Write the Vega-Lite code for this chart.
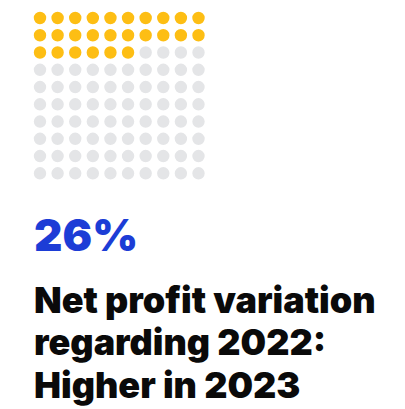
{
  "$schema": "https://vega.github.io/schema/vega-lite/v6.json",
  "autosize": "none",
  "width": 158.5,
  "height": 155.3,
  "padding": {"left": 40, "top": 18, "right": 206.5, "bottom": 235.7},
  "background": "white",
  "config": {"view": {"stroke": null}},
  "title": {
    "text": "26%",
    "orient": "bottom",
    "anchor": "start",
    "frame": "group",
    "dx": -6,
    "offset": 36,
    "font": "Inter",
    "fontSize": 44,
    "fontWeight": 900,
    "color": "#1c3dd6",
    "subtitle": ["Net profit variation", "regarding 2022:", "Higher in 2023"],
    "subtitleFont": "Inter",
    "subtitleFontSize": 36,
    "subtitleFontWeight": 900,
    "subtitleColor": "#0a0a0a",
    "subtitleLineHeight": 42.3,
    "subtitlePadding": 25.5
  },
  "data": {
    "values": [
      {"col": 0, "row": 0, "group": "filled"}, {"col": 1, "row": 0, "group": "filled"}, {"col": 2, "row": 0, "group": "filled"}, {"col": 3, "row": 0, "group": "filled"}, {"col": 4, "row": 0, "group": "filled"}, {"col": 5, "row": 0, "group": "filled"}, {"col": 6, "row": 0, "group": "filled"}, {"col": 7, "row": 0, "group": "filled"}, {"col": 8, "row": 0, "group": "filled"}, {"col": 9, "row": 0, "group": "filled"},
      {"col": 0, "row": 1, "group": "filled"}, {"col": 1, "row": 1, "group": "filled"}, {"col": 2, "row": 1, "group": "filled"}, {"col": 3, "row": 1, "group": "filled"}, {"col": 4, "row": 1, "group": "filled"}, {"col": 5, "row": 1, "group": "filled"}, {"col": 6, "row": 1, "group": "filled"}, {"col": 7, "row": 1, "group": "filled"}, {"col": 8, "row": 1, "group": "filled"}, {"col": 9, "row": 1, "group": "filled"},
      {"col": 0, "row": 2, "group": "filled"}, {"col": 1, "row": 2, "group": "filled"}, {"col": 2, "row": 2, "group": "filled"}, {"col": 3, "row": 2, "group": "filled"}, {"col": 4, "row": 2, "group": "filled"}, {"col": 5, "row": 2, "group": "filled"}, {"col": 6, "row": 2, "group": "empty"}, {"col": 7, "row": 2, "group": "empty"}, {"col": 8, "row": 2, "group": "empty"}, {"col": 9, "row": 2, "group": "empty"},
      {"col": 0, "row": 3, "group": "empty"}, {"col": 1, "row": 3, "group": "empty"}, {"col": 2, "row": 3, "group": "empty"}, {"col": 3, "row": 3, "group": "empty"}, {"col": 4, "row": 3, "group": "empty"}, {"col": 5, "row": 3, "group": "empty"}, {"col": 6, "row": 3, "group": "empty"}, {"col": 7, "row": 3, "group": "empty"}, {"col": 8, "row": 3, "group": "empty"}, {"col": 9, "row": 3, "group": "empty"},
      {"col": 0, "row": 4, "group": "empty"}, {"col": 1, "row": 4, "group": "empty"}, {"col": 2, "row": 4, "group": "empty"}, {"col": 3, "row": 4, "group": "empty"}, {"col": 4, "row": 4, "group": "empty"}, {"col": 5, "row": 4, "group": "empty"}, {"col": 6, "row": 4, "group": "empty"}, {"col": 7, "row": 4, "group": "empty"}, {"col": 8, "row": 4, "group": "empty"}, {"col": 9, "row": 4, "group": "empty"},
      {"col": 0, "row": 5, "group": "empty"}, {"col": 1, "row": 5, "group": "empty"}, {"col": 2, "row": 5, "group": "empty"}, {"col": 3, "row": 5, "group": "empty"}, {"col": 4, "row": 5, "group": "empty"}, {"col": 5, "row": 5, "group": "empty"}, {"col": 6, "row": 5, "group": "empty"}, {"col": 7, "row": 5, "group": "empty"}, {"col": 8, "row": 5, "group": "empty"}, {"col": 9, "row": 5, "group": "empty"},
      {"col": 0, "row": 6, "group": "empty"}, {"col": 1, "row": 6, "group": "empty"}, {"col": 2, "row": 6, "group": "empty"}, {"col": 3, "row": 6, "group": "empty"}, {"col": 4, "row": 6, "group": "empty"}, {"col": 5, "row": 6, "group": "empty"}, {"col": 6, "row": 6, "group": "empty"}, {"col": 7, "row": 6, "group": "empty"}, {"col": 8, "row": 6, "group": "empty"}, {"col": 9, "row": 6, "group": "empty"},
      {"col": 0, "row": 7, "group": "empty"}, {"col": 1, "row": 7, "group": "empty"}, {"col": 2, "row": 7, "group": "empty"}, {"col": 3, "row": 7, "group": "empty"}, {"col": 4, "row": 7, "group": "empty"}, {"col": 5, "row": 7, "group": "empty"}, {"col": 6, "row": 7, "group": "empty"}, {"col": 7, "row": 7, "group": "empty"}, {"col": 8, "row": 7, "group": "empty"}, {"col": 9, "row": 7, "group": "empty"},
      {"col": 0, "row": 8, "group": "empty"}, {"col": 1, "row": 8, "group": "empty"}, {"col": 2, "row": 8, "group": "empty"}, {"col": 3, "row": 8, "group": "empty"}, {"col": 4, "row": 8, "group": "empty"}, {"col": 5, "row": 8, "group": "empty"}, {"col": 6, "row": 8, "group": "empty"}, {"col": 7, "row": 8, "group": "empty"}, {"col": 8, "row": 8, "group": "empty"}, {"col": 9, "row": 8, "group": "empty"},
      {"col": 0, "row": 9, "group": "empty"}, {"col": 1, "row": 9, "group": "empty"}, {"col": 2, "row": 9, "group": "empty"}, {"col": 3, "row": 9, "group": "empty"}, {"col": 4, "row": 9, "group": "empty"}, {"col": 5, "row": 9, "group": "empty"}, {"col": 6, "row": 9, "group": "empty"}, {"col": 7, "row": 9, "group": "empty"}, {"col": 8, "row": 9, "group": "empty"}, {"col": 9, "row": 9, "group": "empty"}
    ]
  },
  "mark": {"type": "circle", "size": 154, "opacity": 1},
  "encoding": {
    "x": {"field": "col", "type": "quantitative", "scale": {"domain": [0, 9], "nice": false, "zero": false}, "axis": null},
    "y": {"field": "row", "type": "quantitative", "scale": {"domain": [0, 9], "nice": false, "zero": false, "reverse": true}, "axis": null},
    "color": {"field": "group", "type": "nominal", "scale": {"domain": ["filled", "empty"], "range": ["#fdbe14", "#e4e5e7"]}, "legend": null}
  }
}
